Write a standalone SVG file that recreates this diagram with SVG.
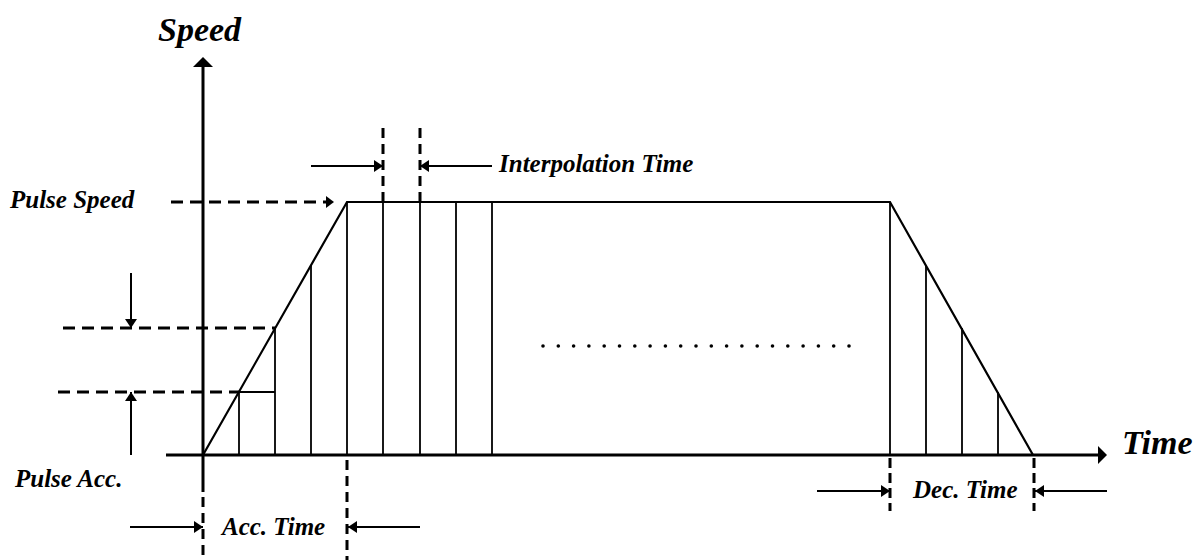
<svg xmlns="http://www.w3.org/2000/svg" width="1198" height="560" viewBox="0 0 1198 560">
<style>
text{font-family:"Liberation Serif","Times New Roman",serif;font-weight:bold;font-style:italic;fill:#000}
.big{font-size:34px}
.lbl{font-size:25px}
.axis{stroke:#000;stroke-width:3;fill:none}
.thick{stroke:#000;stroke-width:2.2;fill:none}
.thin{stroke:#000;stroke-width:1.8;fill:none}
.dash{stroke:#000;stroke-width:3;fill:none;stroke-dasharray:12 7}
.vdash{stroke:#000;stroke-width:3;fill:none;stroke-dasharray:10 6}
.arr{stroke:#000;stroke-width:2;fill:none}
.dot{fill:#000}
</style>
<defs>
<marker id="ah" markerWidth="9" markerHeight="12" refX="9" refY="6" orient="auto" markerUnits="userSpaceOnUse">
<path d="M0,0 L9,6 L0,12 Z" fill="#000"/>
</marker>
<marker id="ahd" markerWidth="9" markerHeight="12" refX="9" refY="6" orient="auto" markerUnits="userSpaceOnUse">
<path d="M0,0 L9,6 L0,12 Z" fill="#000"/>
</marker>
</defs>
<g id="axes">
<line class="axis" x1="203" y1="66" x2="203" y2="492"/>
<path d="M193,67 L203,57 L213,67 Z" fill="#000"/>
<line class="axis" x1="166" y1="455" x2="1098" y2="455"/>
<path d="M1098,446 L1107,455 L1098,464 Z" fill="#000"/>
<text class="big" x="158" y="41">Speed</text>
<text class="big" x="1122" y="454">Time</text>
</g>
<g id="profile">
<polyline class="thick" points="203,455 347,202 890,202 1033,455"/>
<line class="thin" x1="239" y1="392" x2="239" y2="455"/>
<line class="thin" x1="275" y1="328" x2="275" y2="455"/>
<line class="thin" x1="311" y1="265" x2="311" y2="455"/>
<line class="thin" x1="347" y1="202" x2="347" y2="455"/>
<line class="thin" x1="383" y1="202" x2="383" y2="455"/>
<line class="thin" x1="420" y1="202" x2="420" y2="455"/>
<line class="thin" x1="456" y1="202" x2="456" y2="455"/>
<line class="thin" x1="492" y1="202" x2="492" y2="455"/>
<line class="thin" x1="890" y1="202" x2="890" y2="455"/>
<line class="thin" x1="926" y1="265" x2="926" y2="455"/>
<line class="thin" x1="962" y1="328" x2="962" y2="455"/>
<line class="thin" x1="998" y1="392" x2="998" y2="455"/>
<line class="thin" x1="239" y1="392" x2="275" y2="392"/>
</g>
<g id="dots">
<circle class="dot" cx="543" cy="346" r="1.8"/><circle class="dot" cx="558.3" cy="346" r="1.8"/><circle class="dot" cx="573.6" cy="346" r="1.8"/><circle class="dot" cx="588.9" cy="346" r="1.8"/><circle class="dot" cx="604.2" cy="346" r="1.8"/><circle class="dot" cx="619.5" cy="346" r="1.8"/><circle class="dot" cx="634.8" cy="346" r="1.8"/><circle class="dot" cx="650.1" cy="346" r="1.8"/><circle class="dot" cx="665.4" cy="346" r="1.8"/><circle class="dot" cx="680.7" cy="346" r="1.8"/><circle class="dot" cx="696" cy="346" r="1.8"/><circle class="dot" cx="711.3" cy="346" r="1.8"/><circle class="dot" cx="726.6" cy="346" r="1.8"/><circle class="dot" cx="741.9" cy="346" r="1.8"/><circle class="dot" cx="757.2" cy="346" r="1.8"/><circle class="dot" cx="772.5" cy="346" r="1.8"/><circle class="dot" cx="787.8" cy="346" r="1.8"/><circle class="dot" cx="803.1" cy="346" r="1.8"/><circle class="dot" cx="818.4" cy="346" r="1.8"/><circle class="dot" cx="833.7" cy="346" r="1.8"/><circle class="dot" cx="849" cy="346" r="1.8"/>
</g>
<g id="pulse-speed">
<line class="dash" x1="171" y1="202" x2="326" y2="202"/>
<path d="M326,196 L334,202 L326,208 Z" fill="#000"/>
<text class="lbl" x="10" y="208">Pulse Speed</text>
</g>
<g id="interpolation">
<line class="vdash" x1="383" y1="128" x2="383" y2="202"/>
<line class="vdash" x1="420" y1="128" x2="420" y2="202"/>
<line class="arr" x1="311" y1="166" x2="383" y2="166" marker-end="url(#ah)"/>
<line class="arr" x1="492" y1="166" x2="420" y2="166" marker-end="url(#ah)"/>
<text class="lbl" x="499" y="172">Interpolation Time</text>
</g>
<g id="pulse-acc">
<line class="dash" x1="63" y1="328" x2="275" y2="328"/>
<line class="dash" x1="58" y1="392" x2="239" y2="392"/>
<line class="arr" x1="131" y1="273" x2="131" y2="328" marker-end="url(#ah)"/>
<line class="arr" x1="131" y1="455" x2="131" y2="392" marker-end="url(#ah)"/>
<text class="lbl" x="15" y="487">Pulse Acc.</text>
</g>
<g id="acc-time">
<line class="vdash" x1="203" y1="497" x2="203" y2="560"/>
<line class="vdash" x1="347" y1="460" x2="347" y2="560"/>
<line class="arr" x1="130" y1="527" x2="203" y2="527" marker-end="url(#ah)"/>
<line class="arr" x1="420" y1="527" x2="348" y2="527" marker-end="url(#ah)"/>
<text class="lbl" x="222" y="535">Acc. Time</text>
</g>
<g id="dec-time">
<line class="vdash" x1="890" y1="458" x2="890" y2="511" style="stroke-dasharray:10 5"/>
<line class="vdash" x1="1034" y1="458" x2="1034" y2="511" style="stroke-dasharray:10 5"/>
<line class="arr" x1="817" y1="491" x2="890" y2="491" marker-end="url(#ah)"/>
<line class="arr" x1="1107" y1="491" x2="1035" y2="491" marker-end="url(#ah)"/>
<text class="lbl" x="913" y="498">Dec. Time</text>
</g>
</svg>
